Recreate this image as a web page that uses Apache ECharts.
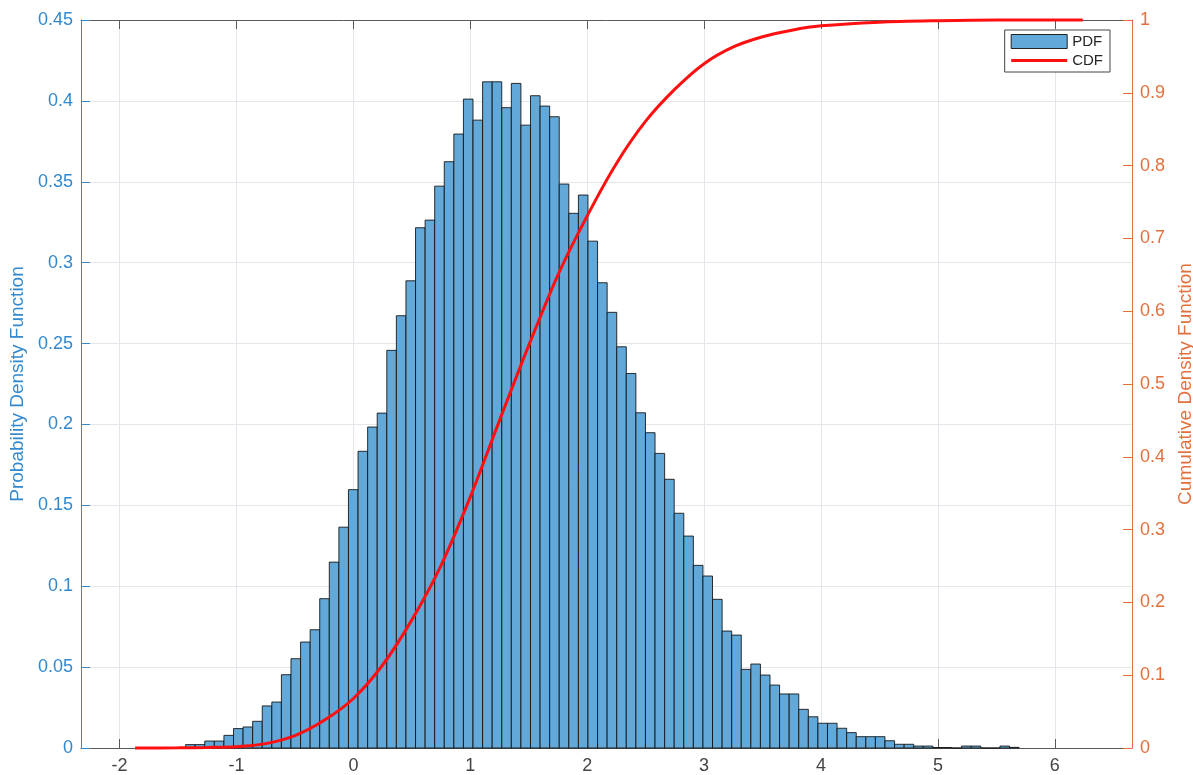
<!DOCTYPE html>
<html>
<head>
<meta charset="utf-8">
<script src="https://cdn.jsdelivr.net/npm/echarts@6/dist/echarts.min.js"></script>
<style>
  html, body { margin: 0; padding: 0; background: #ffffff; }
  #chart { width: 1193px; height: 775px; }
</style>
</head>
<body>
<div id="chart"></div>
<script>
// Histogram bins: left edge of the first bin and the common bin width
const binStart = -1.4353;
const binWidth = 0.08195;

// Normalised histogram heights (probability density), one per bin
const pdfValues = [
  0.0021, 0.0021, 0.0043, 0.0043, 0.0078, 0.0120, 0.0130, 0.0165, 0.0260, 0.0284,
  0.0453, 0.0552, 0.0655, 0.0731, 0.0923, 0.1149, 0.1365, 0.1597, 0.1834, 0.1984,
  0.2070, 0.2458, 0.2672, 0.2888, 0.3216, 0.3263, 0.3473, 0.3624, 0.3795, 0.4011,
  0.3881, 0.4118, 0.4118, 0.3958, 0.4108, 0.3850, 0.4032, 0.3968, 0.3902, 0.3486,
  0.3305, 0.3418, 0.3133, 0.2876, 0.2693, 0.2480, 0.2315, 0.2072, 0.1949, 0.1821,
  0.1661, 0.1451, 0.1310, 0.1129, 0.1063, 0.0919, 0.0723, 0.0698, 0.0486, 0.0519,
  0.0451, 0.0389, 0.0334, 0.0334, 0.0239, 0.0193, 0.0153, 0.0153, 0.0122, 0.0095,
  0.0070, 0.0070, 0.0070, 0.0045, 0.0023, 0.0023, 0.0012, 0.0012, 0.0003, 0.0003,
  0.0000, 0.0012, 0.0012, 0.0000, 0.0000, 0.0012, 0.0004
];

// Cumulative distribution curve
const cdfX = [
  -1.867, -1.50, -1.25, -1.00, -0.75, -0.50, -0.25, 0.00, 0.25, 0.50,
  0.75, 1.00, 1.25, 1.50, 1.75, 2.00, 2.25, 2.50, 2.75, 3.00,
  3.25, 3.50, 3.75, 4.00, 4.50, 5.00, 5.50, 6.239
];
const cdfY = [
  0.000, 0.0003, 0.0008, 0.0018, 0.006, 0.017, 0.038, 0.068, 0.114, 0.176,
  0.251, 0.345, 0.450, 0.553, 0.650, 0.731, 0.803, 0.861, 0.905, 0.940,
  0.963, 0.977, 0.986, 0.992, 0.997, 0.999, 1.000, 1.000
];

// Axis ticks and ranges
const xTicks = [-2, -1, 0, 1, 2, 3, 4, 5, 6];
const xRange = [-2.33, 6.66];
const pdfRange = [0, 0.45];
const cdfRange = [0, 1];

const FONT = "'Liberation Sans', Arial, Helvetica, sans-serif";
const BLUE = '#3389cd';
const ORANGE = '#e2703d';
const FRAME = '#5a5a5a';
const GRID = '#e3e7ec';
const BAR_FILL = '#62a8d8';
const RED = '#ff1010';

const histData = pdfValues.map((v, i) => [binStart + i * binWidth, binStart + (i + 1) * binWidth, v]);
const cdfData = cdfX.map((x, i) => [x, cdfY[i]]);

const chart = echarts.init(document.getElementById('chart'), null, { renderer: 'canvas' });

chart.setOption({
  animation: false,
  backgroundColor: '#ffffff',
  textStyle: { fontFamily: FONT },
  grid: { left: 81, right: 61, top: 20, bottom: 27, containLabel: false, outerBoundsMode: 'none' },
  legend: {
    orient: 'vertical',
    right: 83,
    top: 30,
    itemWidth: 56,
    itemHeight: 14,
    itemGap: 4,
    padding: [4, 7, 4, 5],
    backgroundColor: '#ffffff',
    borderColor: '#444',
    borderWidth: 1,
    borderRadius: 0,
    textStyle: { fontSize: 15, color: '#262626', fontFamily: FONT },
    data: [
      { name: 'PDF', icon: 'rect', itemStyle: { color: BAR_FILL, borderColor: '#222', borderWidth: 1 } },
      { name: 'CDF', itemStyle: { opacity: 0 }, lineStyle: { color: RED, width: 3 } }
    ]
  },
  xAxis: [
    {
      type: 'value',
      position: 'bottom',
      min: xRange[0],
      max: xRange[1],
      axisLine: { show: true, onZero: false, lineStyle: { color: FRAME, width: 1 } },
      axisTick: { show: true, inside: true, length: 9, customValues: xTicks, lineStyle: { color: FRAME } },
      axisLabel: { show: true, customValues: xTicks, margin: 9, fontSize: 18, color: '#444', fontFamily: FONT },
      splitLine: { show: true, lineStyle: { color: GRID, width: 1 } }
    },
    {
      type: 'value',
      position: 'top',
      min: xRange[0],
      max: xRange[1],
      axisLine: { show: true, onZero: false, lineStyle: { color: FRAME, width: 1 } },
      axisTick: { show: true, inside: true, length: 9, customValues: xTicks, lineStyle: { color: FRAME } },
      axisLabel: { show: false },
      splitLine: { show: false }
    }
  ],
  yAxis: [
    {
      type: 'value',
      position: 'left',
      min: pdfRange[0],
      max: pdfRange[1],
      interval: 0.05,
      name: 'Probability Density Function',
      nameLocation: 'middle',
      nameRotate: 90,
      nameGap: 50,
      nameTextStyle: { color: BLUE, fontSize: 19, fontFamily: FONT },
      axisLine: { show: true, onZero: false, lineStyle: { color: BLUE, width: 1 } },
      axisTick: { show: true, inside: true, length: 9, lineStyle: { color: BLUE } },
      axisLabel: { margin: 8, fontSize: 18, color: BLUE, fontFamily: FONT },
      splitLine: { show: true, lineStyle: { color: GRID, width: 1 } }
    },
    {
      type: 'value',
      position: 'right',
      min: cdfRange[0],
      max: cdfRange[1],
      interval: 0.1,
      name: 'Cumulative Density Function',
      nameLocation: 'middle',
      nameRotate: 90,
      nameGap: 39,
      nameTextStyle: { color: ORANGE, fontSize: 19, fontFamily: FONT },
      axisLine: { show: true, onZero: false, lineStyle: { color: ORANGE, width: 1 } },
      axisTick: { show: true, inside: true, length: 9, lineStyle: { color: ORANGE } },
      axisLabel: { margin: 8, fontSize: 18, color: ORANGE, fontFamily: FONT },
      splitLine: { show: false }
    }
  ],
  series: [
    {
      name: 'PDF',
      type: 'custom',
      xAxisIndex: 0,
      yAxisIndex: 0,
      z: 2,
      itemStyle: { color: BAR_FILL, borderColor: '#222' },
      encode: { x: [0, 1], y: 2 },
      data: histData,
      renderItem: function (params, api) {
        const top = api.coord([api.value(0), api.value(2)]);
        const base = api.coord([api.value(1), 0]);
        return {
          type: 'rect',
          shape: { x: top[0], y: top[1], width: base[0] - top[0], height: base[1] - top[1] },
          style: { fill: BAR_FILL, stroke: 'rgba(15,15,15,0.85)', lineWidth: 1 }
        };
      }
    },
    {
      name: 'CDF',
      type: 'line',
      xAxisIndex: 0,
      yAxisIndex: 1,
      z: 4,
      smooth: 0.3,
      showSymbol: false,
      symbol: 'none',
      clip: false,
      lineStyle: { color: RED, width: 3 },
      itemStyle: { color: RED },
      data: cdfData
    }
  ]
});
</script>
</body>
</html>
